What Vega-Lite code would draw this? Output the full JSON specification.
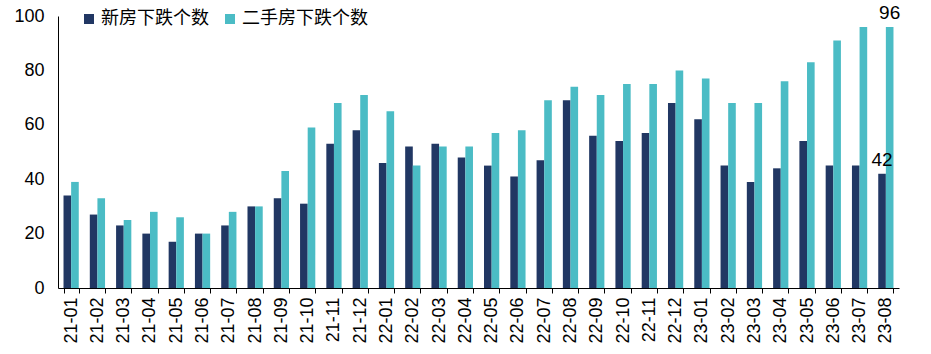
{
  "$schema": "https://vega.github.io/schema/vega-lite/v6.json",
  "autosize": {"type": "none"},
  "width": 841,
  "height": 272,
  "padding": {"left": 58, "top": 16, "right": 32, "bottom": 66},
  "background": "white",
  "config": {
    "view": {"stroke": null},
    "font": "Liberation Sans",
    "axis": {"grid": false, "domainColor": "#000000", "tickColor": "#000000", "labelColor": "#000000"}
  },
  "data": {
    "values": [
      {"month": "21-01", "series": "新房下跌个数", "value": 34},
      {"month": "21-01", "series": "二手房下跌个数", "value": 39},
      {"month": "21-02", "series": "新房下跌个数", "value": 27},
      {"month": "21-02", "series": "二手房下跌个数", "value": 33},
      {"month": "21-03", "series": "新房下跌个数", "value": 23},
      {"month": "21-03", "series": "二手房下跌个数", "value": 25},
      {"month": "21-04", "series": "新房下跌个数", "value": 20},
      {"month": "21-04", "series": "二手房下跌个数", "value": 28},
      {"month": "21-05", "series": "新房下跌个数", "value": 17},
      {"month": "21-05", "series": "二手房下跌个数", "value": 26},
      {"month": "21-06", "series": "新房下跌个数", "value": 20},
      {"month": "21-06", "series": "二手房下跌个数", "value": 20},
      {"month": "21-07", "series": "新房下跌个数", "value": 23},
      {"month": "21-07", "series": "二手房下跌个数", "value": 28},
      {"month": "21-08", "series": "新房下跌个数", "value": 30},
      {"month": "21-08", "series": "二手房下跌个数", "value": 30},
      {"month": "21-09", "series": "新房下跌个数", "value": 33},
      {"month": "21-09", "series": "二手房下跌个数", "value": 43},
      {"month": "21-10", "series": "新房下跌个数", "value": 31},
      {"month": "21-10", "series": "二手房下跌个数", "value": 59},
      {"month": "21-11", "series": "新房下跌个数", "value": 53},
      {"month": "21-11", "series": "二手房下跌个数", "value": 68},
      {"month": "21-12", "series": "新房下跌个数", "value": 58},
      {"month": "21-12", "series": "二手房下跌个数", "value": 71},
      {"month": "22-01", "series": "新房下跌个数", "value": 46},
      {"month": "22-01", "series": "二手房下跌个数", "value": 65},
      {"month": "22-02", "series": "新房下跌个数", "value": 52},
      {"month": "22-02", "series": "二手房下跌个数", "value": 45},
      {"month": "22-03", "series": "新房下跌个数", "value": 53},
      {"month": "22-03", "series": "二手房下跌个数", "value": 52},
      {"month": "22-04", "series": "新房下跌个数", "value": 48},
      {"month": "22-04", "series": "二手房下跌个数", "value": 52},
      {"month": "22-05", "series": "新房下跌个数", "value": 45},
      {"month": "22-05", "series": "二手房下跌个数", "value": 57},
      {"month": "22-06", "series": "新房下跌个数", "value": 41},
      {"month": "22-06", "series": "二手房下跌个数", "value": 58},
      {"month": "22-07", "series": "新房下跌个数", "value": 47},
      {"month": "22-07", "series": "二手房下跌个数", "value": 69},
      {"month": "22-08", "series": "新房下跌个数", "value": 69},
      {"month": "22-08", "series": "二手房下跌个数", "value": 74},
      {"month": "22-09", "series": "新房下跌个数", "value": 56},
      {"month": "22-09", "series": "二手房下跌个数", "value": 71},
      {"month": "22-10", "series": "新房下跌个数", "value": 54},
      {"month": "22-10", "series": "二手房下跌个数", "value": 75},
      {"month": "22-11", "series": "新房下跌个数", "value": 57},
      {"month": "22-11", "series": "二手房下跌个数", "value": 75},
      {"month": "22-12", "series": "新房下跌个数", "value": 68},
      {"month": "22-12", "series": "二手房下跌个数", "value": 80},
      {"month": "23-01", "series": "新房下跌个数", "value": 62},
      {"month": "23-01", "series": "二手房下跌个数", "value": 77},
      {"month": "23-02", "series": "新房下跌个数", "value": 45},
      {"month": "23-02", "series": "二手房下跌个数", "value": 68},
      {"month": "23-03", "series": "新房下跌个数", "value": 39},
      {"month": "23-03", "series": "二手房下跌个数", "value": 68},
      {"month": "23-04", "series": "新房下跌个数", "value": 44},
      {"month": "23-04", "series": "二手房下跌个数", "value": 76},
      {"month": "23-05", "series": "新房下跌个数", "value": 54},
      {"month": "23-05", "series": "二手房下跌个数", "value": 83},
      {"month": "23-06", "series": "新房下跌个数", "value": 45},
      {"month": "23-06", "series": "二手房下跌个数", "value": 91},
      {"month": "23-07", "series": "新房下跌个数", "value": 45},
      {"month": "23-07", "series": "二手房下跌个数", "value": 96},
      {"month": "23-08", "series": "新房下跌个数", "value": 42},
      {"month": "23-08", "series": "二手房下跌个数", "value": 96}
    ]
  },
  "encoding": {
    "x": {
      "field": "month", "type": "nominal", "sort": null, "title": null,
      "scale": {"paddingInner": 0.42, "paddingOuter": 0.21},
      "axis": {
        "labelAngle": -90, "labelFontSize": 18, "labelPadding": 4,
        "tickBand": "extent", "tickSize": 5, "domainColor": "#000000"
      }
    },
    "xOffset": {"field": "series", "type": "nominal", "sort": ["新房下跌个数", "二手房下跌个数"]},
    "y": {
      "field": "value", "type": "quantitative", "title": null,
      "scale": {"domain": [0, 100]},
      "axis": {"values": [0, 20, 40, 60, 80, 100], "labelFontSize": 18, "ticks": false, "labelPadding": 14}
    }
  },
  "layer": [
    {
      "mark": {"type": "bar"},
      "encoding": {
        "color": {
          "field": "series", "type": "nominal", "title": null,
          "sort": ["新房下跌个数", "二手房下跌个数"],
          "scale": {"domain": ["新房下跌个数", "二手房下跌个数"], "range": ["#213763", "#4BBCC5"]},
          "legend": {
            "orient": "none", "direction": "horizontal", "legendX": 22, "legendY": -6,
            "symbolType": "square", "symbolSize": 100, "symbolStrokeWidth": 0,
            "labelFont": "Noto Sans CJK SC", "labelFontSize": 18, "labelColor": "#000000",
            "columnPadding": 12, "labelOffset": 3
          }
        }
      }
    },
    {
      "transform": [{"filter": "datum.month === '23-08'"}],
      "mark": {"type": "text", "baseline": "bottom", "dy": -4, "fontSize": 19, "color": "#000000"},
      "encoding": {"text": {"field": "value", "type": "quantitative"}}
    }
  ]
}
